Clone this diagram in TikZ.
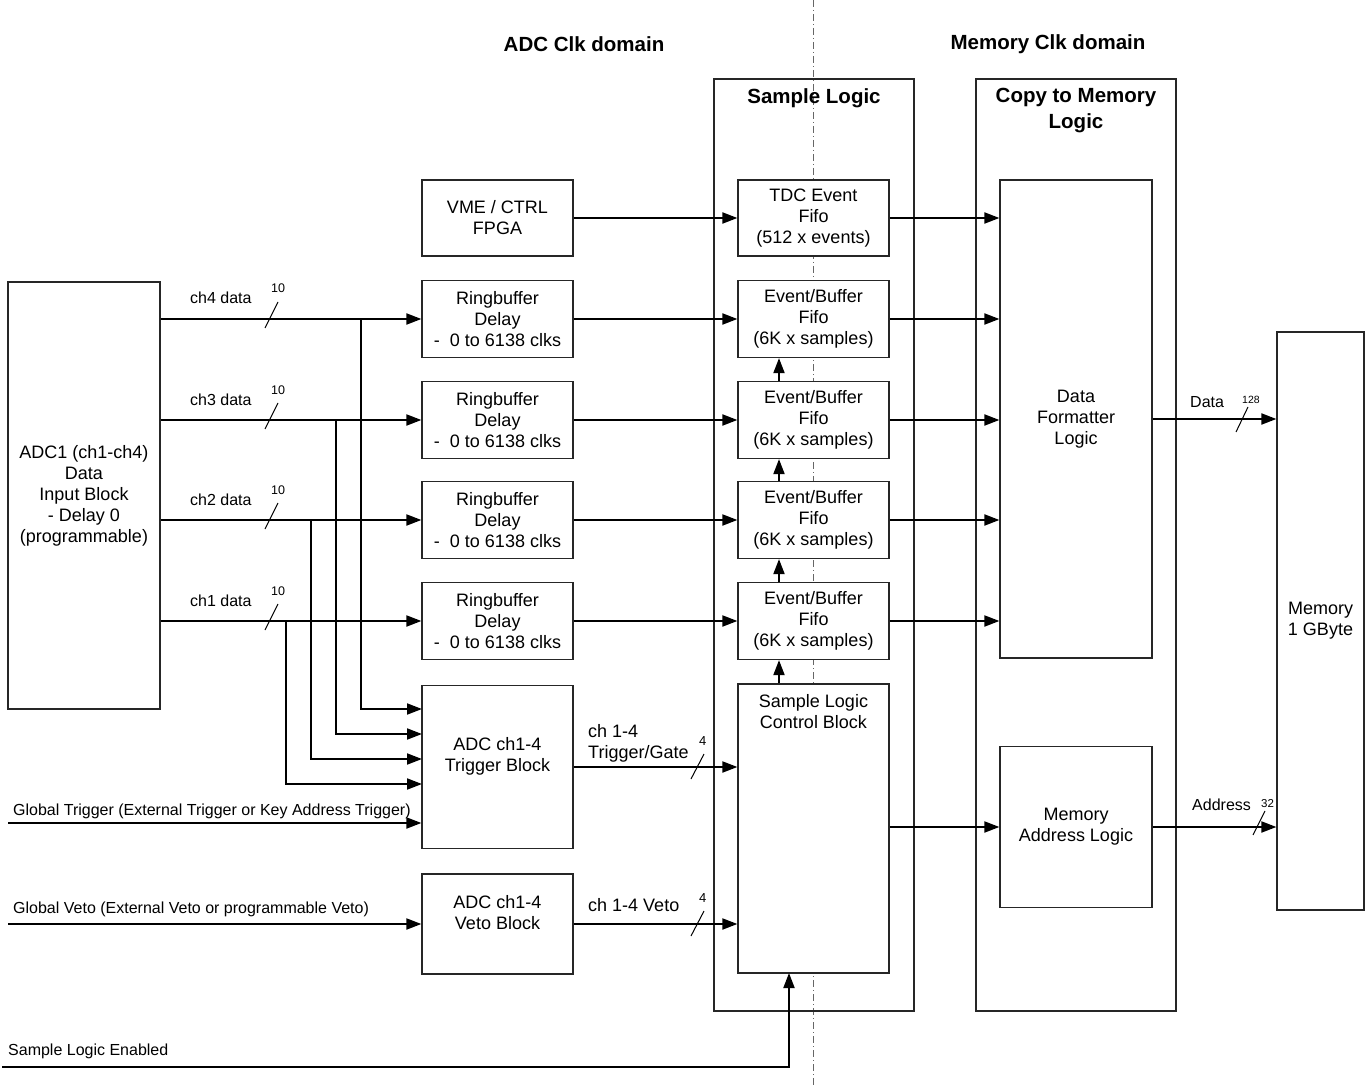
\documentclass[tikz,border=0pt]{standalone}
\usepackage{fontspec}
\setmainfont{Liberation Sans}
\usetikzlibrary{arrows.meta,calc}
\begin{document}
\begin{tikzpicture}[x=1pt,y=-1pt,
  box/.style={draw=black!85, line width=1.2pt, fill=white, inner sep=0pt, minimum width=151pt},
  frame/.style={draw=black!85, line width=1.2pt, inner sep=0pt, minimum width=200pt, minimum height=932pt},
  conn/.style={line width=1.9pt, -{Triangle[length=15pt,width=11pt]}},
  txt/.style={font=\fontsize{18}{21}\selectfont, align=center, inner sep=0pt},
  lbl/.style={font=\fontsize{16}{19}\selectfont, inner sep=0pt},
  bus/.style={font=\fontsize{12.5}{14}\selectfont, inner sep=0pt},
  hdr/.style={font=\bfseries\fontsize{20.5}{26}\selectfont, align=center, inner sep=0pt},
  slash/.style={line width=1pt}
]
\useasboundingbox (0,0) rectangle (1369,1086);

% clock domain boundary
\draw[black!60, line width=0.8pt, dash pattern=on 7pt off 3pt on 1pt off 3pt] (813,0) -- (813,1086);

% headings
\node[hdr] (hadc) at (584,44) {ADC Clk domain};
\node[hdr] (hmem) at (1048,44) {Memory Clk domain};

% outer logic frames
\node[frame] (slo) at (814,545) {};
\node[frame] (cpo) at (1076,545) {};
\node[hdr] (slot) at (814,98) {Sample Logic};
\node[hdr, anchor=north] (cpot) at (1076,88) {Copy to Memory\\Logic};

% ADC input block
\node[box, minimum width=152pt, minimum height=427pt, txt] (adc) at (84,495.5)
  {ADC1 (ch1-ch4)\\Data\\Input Block\\- Delay 0\\(programmable)};

% VME / CTRL
\node[box, minimum height=76pt, txt] (vme) at (497.5,218) {VME / CTRL\\FPGA};

% ringbuffers
\foreach \n/\y in {4/319,3/420,2/520,1/621}{
  \node[box, minimum height=77pt, txt] (rb\n) at (497.5,\y) {Ringbuffer\\Delay\\-\ \ 0 to 6138 clks};
}

% trigger and veto blocks
\node[box, minimum height=163pt] (trig) at (497.5,767) {};
\node[txt] (trigt) at (497.5,756) {ADC ch1-4\\Trigger Block};
\node[box, minimum height=100pt] (veto) at (497.5,924) {};
\node[txt] (vetot) at (497.5,912.5) {ADC ch1-4\\Veto Block};

% sample logic fifos
\node[box, minimum height=76pt, txt] (tdc) at (813.5,218) {TDC Event\\Fifo\\(512 x events)};
\foreach \n/\y in {4/319,3/420,2/520,1/621}{
  \node[box, minimum height=77pt, txt] (f\n) at (813.5,\y) {Event/Buffer\\Fifo\\(6K x samples)};
}
\node[box, minimum height=289pt] (ctl) at (813.5,828.5) {};
\node[txt] (ctlt) at (813.5,711.5) {Sample Logic\\Control Block};

% copy to memory logic
\node[box, minimum width=152pt, minimum height=478pt, txt] (fmt) at (1076,419) {Data\\Formatter\\Logic};
\node[box, minimum width=152pt, minimum height=161pt, txt] (addr) at (1076,827) {Memory\\Address Logic};

% memory
\node[box, minimum width=87pt, minimum height=578pt, txt] (mem) at (1320.5,621) {Memory\\1 GByte};

% channel data paths
\foreach \n/\y in {4/319,3/420,2/520,1/621}{
  \draw[conn] (adc.east |- rb\n.west) -- (rb\n.west);
  \draw[conn] (rb\n.east) -- (f\n.west);
  \draw[conn] (f\n.east) -- (fmt.west |- f\n.east);
  \draw[slash] (265,\y+9) -- (278,\y-17);
  \node[bus, anchor=base west] at (271,\y-26) {10};
  \node[lbl, anchor=base west] at (190,\y-15) {ch\n\ data};
}

% channel taps into the trigger block
\coordinate (j4) at (361,319);
\coordinate (j3) at (336,420);
\coordinate (j2) at (311,520);
\coordinate (j1) at (286,621);
\coordinate (t4) at (422,709);
\coordinate (t3) at (422,734);
\coordinate (t2) at (422,759);
\coordinate (t1) at (422,784);
\foreach \n in {4,3,2,1}{
  \draw[conn] (j\n) |- (t\n);
}

% global trigger / veto inputs
\coordinate (gtin) at (8,823);
\coordinate (gvin) at (8,924);
\draw[conn] (gtin) -- (trig.west |- gtin);
\draw[conn] (gvin) -- (veto.west |- gvin);
\node[lbl, anchor=base west] at (13,815) {Global Trigger (External Trigger or Key Address Trigger)};
\node[lbl, anchor=base west] at (13,913) {Global Veto (External Veto or programmable Veto)};

% VME to TDC fifo and on to the formatter
\draw[conn] (vme.east) -- (tdc.west);
\draw[conn] (tdc.east) -- (fmt.west |- tdc.east);

% fifo chain
\draw[conn] ($(ctl.north)+(-34.5,0)$) -- ($(f1.south)+(-34.5,0)$);
\draw[conn] ($(f1.north)+(-34.5,0)$) -- ($(f2.south)+(-34.5,0)$);
\draw[conn] ($(f2.north)+(-34.5,0)$) -- ($(f3.south)+(-34.5,0)$);
\draw[conn] ($(f3.north)+(-34.5,0)$) -- ($(f4.south)+(-34.5,0)$);

% trigger / veto to control block
\draw[conn] (trig.east) -- (ctl.west |- trig.east);
\draw[slash] (691,779) -- (704,754);
\node[bus, anchor=base west, font=\fontsize{13}{15}\selectfont] at (699,745) {4};
\node[txt, anchor=base west] at (588,737) {ch 1-4};
\node[txt, anchor=base west] at (588,758) {Trigger/Gate};

\draw[conn] (veto.east) -- (ctl.west |- veto.east);
\draw[slash] (691,936) -- (704,911);
\node[bus, anchor=base west, font=\fontsize{13}{15}\selectfont] at (699,902) {4};
\node[txt, anchor=base west] at (588,911) {ch 1-4 Veto};

% control block to address logic
\draw[conn] (ctl.east |- addr.west) -- (addr.west);

% outputs to memory
\draw[conn] (fmt.east) -- (mem.west |- fmt.east);
\draw[slash] (1236,432) -- (1248,407);
\node[lbl, anchor=base west] at (1190,407) {Data};
\node[bus, anchor=base west, font=\fontsize{10.5}{12}\selectfont] at (1242,403) {128};

\draw[conn] (addr.east) -- (mem.west |- addr.east);
\draw[slash] (1253,835) -- (1265,811);
\node[lbl, anchor=base west] at (1192,810) {Address};
\node[bus, anchor=base west, font=\fontsize{11.5}{13}\selectfont] at (1261,807) {32};

% sample logic enable
\coordinate (slein) at (2,1067);
\coordinate (ctlin) at (789,973);
\draw[conn] (slein) -| (ctlin);
\node[lbl, anchor=base west] at (8,1055) {Sample Logic Enabled};

\end{tikzpicture}
\end{document}
